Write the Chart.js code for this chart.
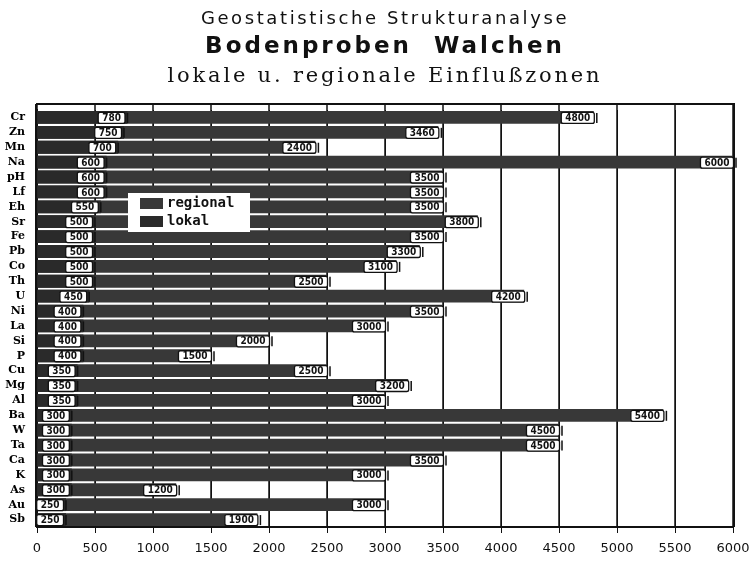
<!DOCTYPE html>
<html><head><meta charset="utf-8">
<script src="https://cdn.jsdelivr.net/npm/chart.js@4/dist/chart.umd.min.js"></script>
<style>
html,body{margin:0;padding:0;background:#fff;}
#wrap{position:relative;width:752px;height:563px;overflow:hidden;}
canvas{position:absolute;left:0;top:0;}
.t{position:absolute;left:0;width:770px;text-align:center;white-space:pre;color:#111;}
</style></head><body>
<div id="wrap">
<canvas id="c" width="752" height="563"></canvas>
<div class="t" style="top:7px;font:18px 'DejaVu Sans';letter-spacing:2.6px;">Geostatistische Strukturanalyse</div>
<div class="t" style="top:32px;font:bold 23px 'DejaVu Sans';letter-spacing:3px;">Bodenproben  Walchen</div>
<div class="t" style="top:63px;font:21px 'DejaVu Serif';letter-spacing:2.8px;">lokale u. regionale Einflußzonen</div>
</div>
<script>
const categories = ['Cr','Zn','Mn','Na','pH','Lf','Eh','Sr','Fe','Pb','Co','Th','U','Ni','La','Si','P','Cu','Mg','Al','Ba','W','Ta','Ca','K','As','Au','Sb'];
const lokal    = [780,750,700,600,600,600,550,500,500,500,500,500,450,400,400,400,400,350,350,350,300,300,300,300,300,300,250,250];
const regional = [4800,3460,2400,6000,3500,3500,3500,3800,3500,3300,3100,2500,4200,3500,3000,2000,1500,2500,3200,3000,5400,4500,4500,3500,3000,1200,3000,1900];
const xTicks = [0,500,1000,1500,2000,2500,3000,3500,4000,4500,5000,5500,6000];

const framePlugin = {
  id:'frame',
  beforeDatasetsDraw(chart){
    const {ctx, chartArea:a, scales:{x}} = chart;
    ctx.save();
    ctx.strokeStyle='#111';
    ctx.lineWidth=1.5;
    xTicks.forEach(v=>{
      const px = x.getPixelForValue(v);
      ctx.beginPath(); ctx.moveTo(px,a.top-6); ctx.lineTo(px,a.bottom); ctx.stroke();
    });
    ctx.lineWidth=2;
    ctx.beginPath(); ctx.moveTo(a.left-1,a.top-6); ctx.lineTo(x.getPixelForValue(6000)+2,a.top-6); ctx.stroke();
    const r = x.getPixelForValue(6000);
    ctx.beginPath(); ctx.moveTo(r+1,a.top-6); ctx.lineTo(r+1,a.bottom); ctx.stroke();
    ctx.beginPath(); ctx.moveTo(a.left-1,a.top-6); ctx.lineTo(a.left-1,a.bottom); ctx.stroke();
    ctx.restore();
  }
};

const labelPlugin = {
  id:'vlabels',
  afterDatasetsDraw(chart){
    const ctx = chart.ctx;
    ctx.save();
    ctx.font = "bold 10px 'Liberation Sans Narrow','DejaVu Sans Condensed',sans-serif";
    ctx.textBaseline='middle';
    ctx.textAlign='center';
    chart.data.datasets.forEach((ds,di)=>{
      const meta = chart.getDatasetMeta(di);
      meta.data.forEach((bar,i)=>{
        const txt = String(ds.data[i]);
        const w = ctx.measureText(txt).width + 8;
        const h = 11;
        const right = bar.x - (ds.label==='lokal' ? 3 : 0);
        const left = right - w;
        const top = bar.y - h/2;
        ctx.fillStyle='#fff';
        ctx.strokeStyle='#111';
        ctx.lineWidth=1.3;
        ctx.beginPath();
        ctx.roundRect(left+0.5, top+0.5, w, h, 2);
        ctx.fill(); ctx.stroke();
        ctx.lineWidth=1.5;
        ctx.beginPath(); ctx.moveTo(right+3, top+1); ctx.lineTo(right+3, top+h); ctx.stroke();
        ctx.fillStyle='#111';
        ctx.fillText(txt, left + w/2 + 0.5, bar.y + 1);
      });
    });
    // legend
    const lx=128, ly=193, lw=122, lh=39;
    ctx.fillStyle='#fff';
    ctx.fillRect(lx,ly,lw,lh);
    const sw = [['regional', 198], ['lokal', 216]];
    ctx.textAlign='left';
    ctx.font = "bold 14px 'DejaVu Sans Mono',monospace";
    sw.forEach(([name,y])=>{
      const ds = chart.data.datasets.find(d=>d.label===name);
      ctx.fillStyle = ds.backgroundColor;
      ctx.fillRect(140,y,23,11);
      ctx.fillStyle='#111';
      ctx.fillText(name, 167, y+5.5);
    });
    ctx.restore();
  }
};

new Chart(document.getElementById('c'), {
  type:'bar',
  data:{
    labels: categories,
    datasets:[
      {label:'lokal', data: lokal, backgroundColor:'#2a2a2a', grouped:false, barPercentage:0.86, categoryPercentage:1},
      {label:'regional', data: regional, backgroundColor:'#383838', grouped:false, barPercentage:0.86, categoryPercentage:1}
    ]
  },
  options:{
    responsive:false, animation:false, devicePixelRatio:1,
    indexAxis:'y',
    layout:{padding:{top:110,right:19,left:0,bottom:0}},
    plugins:{legend:{display:false}, tooltip:{enabled:false}, title:{display:false}},
    scales:{
      x:{type:'linear', min:0, max:6000, position:'bottom',
        afterBuildTicks(s){ s.ticks = xTicks.map(v=>({value:v})); },
        ticks:{color:'#111', font:{family:"'DejaVu Sans'", size:13}, padding:8, maxRotation:0, autoSkip:false,
          callback:(v)=>String(v)},
        grid:{color:'#111', lineWidth:1, drawTicks:true, tickLength:6},
        border:{display:true, color:'#111', width:2},
        afterFit(s){ s.height = 36; s.paddingRight = 0; s.paddingLeft = 0; }
      },
      y:{type:'category', offset:true,
        ticks:{color:'#000', font:{family:"'DejaVu Serif'", size:11, weight:'bold'}, padding:4, autoSkip:false},
        grid:{display:false},
        border:{display:true, color:'#111', width:2},
        afterFit(s){ s.width = 37; }
      }
    }
  },
  plugins:[framePlugin, labelPlugin]
});
</script>
</body></html>
